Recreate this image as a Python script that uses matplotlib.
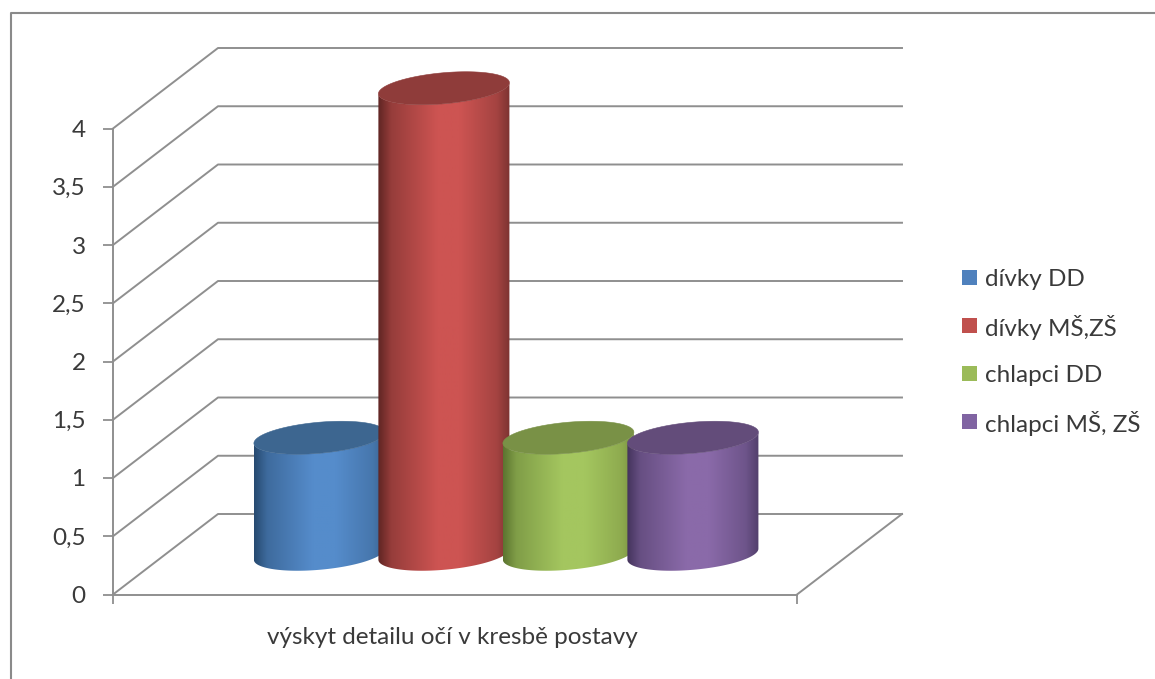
import numpy as np
import matplotlib
matplotlib.use("Agg")
import matplotlib.pyplot as plt
from matplotlib.colors import LinearSegmentedColormap, to_rgb
from matplotlib.lines import Line2D
from matplotlib.patches import Polygon, Rectangle
from matplotlib.ticker import FuncFormatter

plt.rcParams['font.family'] = ['Lato', 'DejaVu Sans']

category = "výskyt detailu očí v kresbě postavy"
series = ["dívky DD", "dívky MŠ,ZŠ", "chlapci DD", "chlapci MŠ, ZŠ"]
values = [1, 4, 1, 1]
y_ticks = [0, 0.5, 1, 1.5, 2, 2.5, 3, 3.5, 4]

# left edge, centre, right edge of the shading, then the lid and legend colours
side_dark = ["#274a70", "#5f2523", "#5c7530", "#44345c"]
side_mid = ["#558ccb", "#cd5452", "#a4c65f", "#8a6aa9"]
side_right = ["#38618f", "#7d3331", "#78903f", "#523f6c"]
lid = ["#3d6690", "#8f3c3a", "#799146", "#634c7a"]
swatch = ["#4f81bd", "#c0504d", "#9bbb59", "#8064a2"]

GRID = "#8f8f8f"
TEXT = "#3a3a3a"
W, H = 1155, 679
FONT = 17.5

# front plane of the chart, in pixels
LEFT, RIGHT, Y0, Y4 = 113, 797, 594.5, 128.5
x_px = RIGHT - LEFT
y_px = (Y0 - Y4) / 4

# wall/floor depth in data units
depth_x = 105 / x_px
depth_y = 80.5 / y_px

fig = plt.figure(figsize=(W / 100, H / 100), dpi=100, facecolor="white")
ax = fig.add_axes([LEFT / W, 1 - Y0 / H, x_px / W, (Y0 - Y4) / H])
ax.patch.set_visible(False)


def ellipse(cx, cy, t):
    a = 61.7 / x_px
    bx = 22 / x_px
    by = 16.5 / y_px
    return np.column_stack([cx + a * np.cos(t) + bx * np.sin(t), cy + by * np.sin(t)])


def blend(c1, c2, f):
    return tuple((1 - f) * p + f * q for p, q in zip(to_rgb(c1), to_rgb(c2)))


# walls and floor
for v in y_ticks:
    ax.plot([0, depth_x, 1 + depth_x], [v, v + depth_y, v + depth_y],
            color=GRID, lw=1.4, clip_on=False, zorder=1)
ax.plot([1, 1 + depth_x], [0, depth_y], color=GRID, lw=1.4, clip_on=False, zorder=1)

# cylinders
first = 0.225
step = 124.5 / x_px
t0 = np.arctan2(22, 61.7)
for i, v in enumerate(values):
    cx = first + i * step
    z = 3 + i
    low = ellipse(cx + depth_x / 2, depth_y / 2, np.linspace(t0 + np.pi, t0 + 2 * np.pi, 80))
    high = ellipse(cx + depth_x / 2, v + depth_y / 2, np.linspace(t0, t0 - np.pi, 80))
    outline = np.vstack([low, high])

    side = Polygon(outline, closed=True, facecolor="none", edgecolor="none",
                   transform=ax.transData, clip_on=False)
    ax.add_patch(side)
    cmap = LinearSegmentedColormap.from_list(
        f"c{i}", [(0, side_dark[i]), (0.1, blend(side_dark[i], side_mid[i], 0.5)),
                  (0.45, side_mid[i]), (0.62, side_mid[i]),
                  (0.9, blend(side_right[i], side_mid[i], 0.5)), (1, side_right[i])])
    grad = np.linspace(0, 1, 256).reshape(1, -1)
    im = ax.imshow(grad, cmap=cmap, aspect="auto", zorder=z, interpolation="bilinear",
                   extent=[outline[:, 0].min(), outline[:, 0].max(),
                           outline[:, 1].min(), outline[:, 1].max()])
    im.set_clip_path(side)
    im.set_clip_box(fig.bbox)

    top = ellipse(cx + depth_x / 2, v + depth_y / 2, np.linspace(0, 2 * np.pi, 160))
    ax.add_patch(Polygon(top, closed=True, facecolor=lid[i], edgecolor=lid[i], lw=0.4,
                         clip_on=False, zorder=z + 0.5))

ax.set_xlim(0, 1)
ax.set_ylim(0, 4)
ax.set_yticks(y_ticks)
ax.yaxis.set_major_formatter(FuncFormatter(lambda v, _: f"{v:g}".replace(".", ",")))
ax.set_xticks([0, 1])
ax.set_xticklabels([])
ax.set_xlabel(category, fontsize=FONT, color=TEXT, va="center")
ax.xaxis.set_label_coords((452.5 - LEFT) / x_px, -(638 - Y0) / (Y0 - Y4))
ax.tick_params(axis="y", length=7.2, width=1.3, color=GRID, labelsize=FONT,
               labelcolor=TEXT, pad=12.5)
ax.tick_params(axis="x", length=6.5, width=1.3, color=GRID)
for name in ["top", "right"]:
    ax.spines[name].set_visible(False)
for name in ["left", "bottom"]:
    ax.spines[name].set_color(GRID)
    ax.spines[name].set_linewidth(1.4)

# legend rows are evenly spaced, so placed one by one (caron would stretch a row)
for i, (c, s) in enumerate(zip(swatch, series)):
    row = 277 + i * 48
    fig.add_artist(Rectangle((961.5 / W, 1 - (row + 7.5) / H), 15.5 / W, 15 / H,
                             facecolor=c, edgecolor="none", transform=fig.transFigure))
    fig.text(985 / W, 1 - row / H, s, fontsize=FONT, color=TEXT, va="center_baseline")

# outer frame, cut by the picture on the right and at the bottom
fig.add_artist(Line2D([10.5 / W, 10.5 / W, 1], [0, 1 - 12.5 / H, 1 - 12.5 / H],
                      color="#8a8a8a", lw=1.5, transform=fig.transFigure))

fig.savefig("out.png", dpi=100, facecolor="white")
